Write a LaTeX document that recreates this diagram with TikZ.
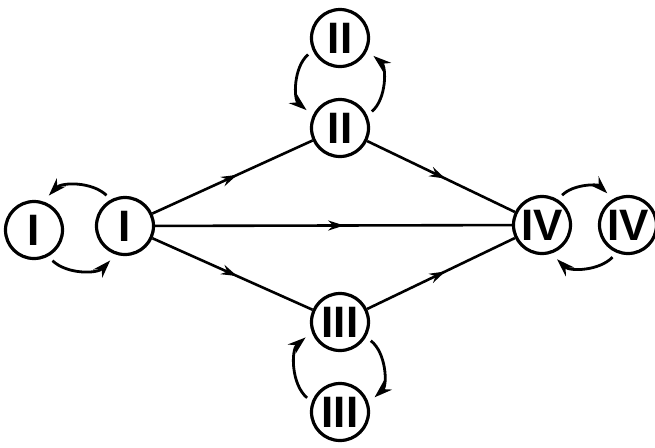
\documentclass[tikz,border=0pt]{standalone}
\usepackage{fontspec}
\setmainfont{Liberation Sans}
\usetikzlibrary{arrows.meta,decorations.markings}

\begin{document}
\begin{tikzpicture}[
    x=0.5pt, y=-0.5pt,
    phase/.style={draw,circle,line width=1.6pt,minimum size=28.5pt,inner sep=0pt,
      font=\fontsize{22}{22}\selectfont\bfseries},
    flow/.style={line width=1.3pt,postaction={decorate},
      decoration={markings,mark=at position 0.53 with {\arrow{Stealth[length=8pt,width=5pt]}}}},
    exch/.style={line width=1.4pt,-{Stealth[length=9pt,width=6pt]},shorten >=4pt,shorten <=3pt}
]
    \useasboundingbox (0,0) rectangle (655,447);

    % Phases
    \node[phase] (I1) at (34,230) {I};
    \node[phase] (I2) at (125,226) {I};
    \node[phase] (IIa) at (340,38) {II};
    \node[phase] (IIb) at (340,128) {II};
    \node[phase] (IIIa) at (340,322) {III};
    \node[phase] (IIIb) at (340,412) {III};
    \node[phase] (IVa) at (542,225) {IV};
    \node[phase] (IVb) at (628,225) {IV};

    % Transitions
    \draw[flow] (I2) -- (IIb);
    \draw[flow] (I2) -- (IVa);
    \draw[flow] (I2) -- (IIIa);
    \draw[flow] (IIb) -- (IVa);
    \draw[flow] (IIIa) -- (IVa);

    % Exchange between equal phases
    \draw[exch] (I2.118) to[bend right=45] (I1.72);
    \draw[exch] (I1.-62) to[bend right=45] (I2.-108);
    \draw[exch] (IIa.205) to[bend right=50] (IIb.155);
    \draw[exch] (IIb.25) to[bend right=50] (IIa.-25);
    \draw[exch] (IIIb.160) to[bend left=50] (IIIa.200);
    \draw[exch] (IIIa.-30) to[bend left=50] (IIIb.18);
    \draw[exch] (IVa.58) to[bend left=45] (IVb.120);
    \draw[exch] (IVb.-112) to[bend left=45] (IVa.-72);
\end{tikzpicture}
\end{document}
